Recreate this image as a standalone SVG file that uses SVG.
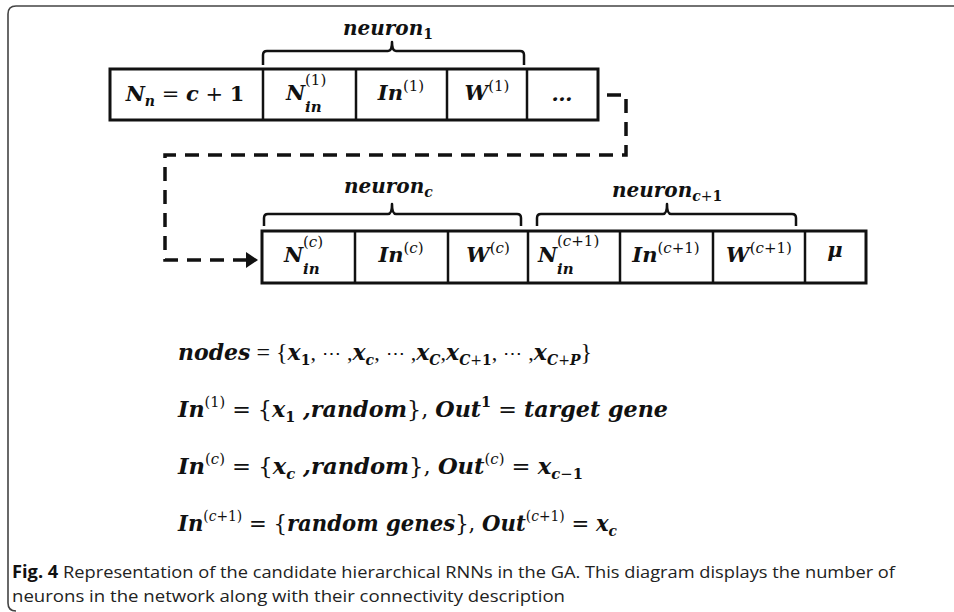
<svg xmlns="http://www.w3.org/2000/svg" width="954" height="612" viewBox="0 0 954 612">
<defs>
<style>
.m{font-family:"DejaVu Serif","Liberation Serif",serif;font-weight:bold;font-style:italic;fill:#111}
.r{font-weight:normal;font-style:normal}
.b{font-style:normal}
.ls{font-family:"Liberation Serif","DejaVu Serif",serif}
.box{fill:#fff;stroke:#111;stroke-width:3}
.div{stroke:#111;stroke-width:2.5}
.brace{fill:none;stroke:#111;stroke-width:2.5;stroke-linejoin:round}
.dash{fill:none;stroke:#111;stroke-width:3.5;stroke-dasharray:14 9}
.cap{font-family:"Open Sans","Liberation Sans",sans-serif;font-size:17px;fill:#222}
</style>
</defs>
<rect width="954" height="612" fill="#fff"/>
<path d="M954,6 H16 Q8,6 8,14 V603 Q8,611 16,611" fill="none" stroke="#444" stroke-width="1.6"/>

<g id="connectors">
<path class="dash" d="M607,95 H626 V155 H165 V260 H247"/>
<path d="M246,252 L258,260 L246,268 Z" fill="#111"/>
</g>

<g id="label-neuron1">
<path class="brace" d="M263,65 V55 Q263,51 267,51 H388 Q392,51 392,42 Q392,51 396,51 H520 Q524,51 524,55 V65"/>
<text class="m" x="343" y="35" font-size="20">neuron<tspan font-size="14" dy="4" class="b">1</tspan></text>
</g>

<g id="top-array">
<rect class="box" x="110" y="69" width="488" height="51"/>
<line class="div" x1="263" y1="69" x2="263" y2="120"/>
<line class="div" x1="356" y1="69" x2="356" y2="120"/>
<line class="div" x1="447" y1="69" x2="447" y2="120"/>
<line class="div" x1="527" y1="69" x2="527" y2="120"/>
<g id="cell-Nn">
<text class="m" x="185" y="101" font-size="21" text-anchor="middle">N<tspan font-size="14" dy="5">n</tspan><tspan class="r" dy="-5"> = </tspan>c<tspan class="r"> + </tspan><tspan class="b">1</tspan></text>
</g>
<g id="cell-Nin1">
<text class="m" x="286" y="100" font-size="21">N</text>
<text class="m" x="305" y="85" font-size="15"><tspan class="r">(1)</tspan></text>
<text class="m" x="305" y="112" font-size="15">in</text>
</g>
<g id="cell-In1">
<text class="m" x="401" y="100" font-size="21" text-anchor="middle">In<tspan font-size="15" dy="-9" class="r">(1)</tspan></text>
</g>
<g id="cell-W1">
<text class="m" x="487" y="100" font-size="21" text-anchor="middle">W<tspan font-size="15" dy="-9" class="r">(1)</tspan></text>
</g>
<g id="cell-dots">
<text class="m" x="562" y="101" font-size="21" text-anchor="middle">…</text>
</g>
</g>

<g id="label-neuronc">
<path class="brace" d="M264,226 V218 Q264,214 268,214 H388 Q392,214 392,204 Q392,214 396,214 H517 Q521,214 521,218 V226"/>
<text class="m" x="344" y="193" font-size="20">neuron<tspan font-size="14" dy="4">c</tspan></text>
</g>
<g id="label-neuronc1">
<path class="brace" d="M537,226 V218 Q537,214 541,214 H663 Q667,214 667,204 Q667,214 671,214 H792 Q796,214 796,218 V226"/>
<text class="m" x="612" y="197" font-size="20">neuron<tspan font-size="14" dy="4">c<tspan class="r">+</tspan><tspan class="b">1</tspan></tspan></text>
</g>

<g id="bottom-array">
<rect class="box" x="262" y="231" width="604" height="52"/>
<line class="div" x1="355" y1="231" x2="355" y2="283"/>
<line class="div" x1="448" y1="231" x2="448" y2="283"/>
<line class="div" x1="528" y1="231" x2="528" y2="283"/>
<line class="div" x1="620" y1="231" x2="620" y2="283"/>
<line class="div" x1="713" y1="231" x2="713" y2="283"/>
<line class="div" x1="805" y1="231" x2="805" y2="283"/>
<g id="cell-Ninc">
<text class="m" x="284" y="262" font-size="21">N</text>
<text class="m" x="303" y="247" font-size="15"><tspan class="r">(</tspan><tspan font-weight="normal">c</tspan><tspan class="r">)</tspan></text>
<text class="m" x="303" y="274" font-size="15">in</text>
</g>
<g id="cell-Inc">
<text class="m" x="401" y="262" font-size="21" text-anchor="middle">In<tspan font-size="15" dy="-9"><tspan class="r">(</tspan><tspan font-weight="normal">c</tspan><tspan class="r">)</tspan></tspan></text>
</g>
<g id="cell-Wc">
<text class="m" x="488" y="262" font-size="21" text-anchor="middle">W<tspan font-size="15" dy="-9"><tspan class="r">(</tspan><tspan font-weight="normal">c</tspan><tspan class="r">)</tspan></tspan></text>
</g>
<g id="cell-Ninc1">
<text class="m" x="538" y="262" font-size="21">N</text>
<text class="m" x="557" y="246" font-size="15"><tspan class="r">(</tspan><tspan font-weight="normal">c</tspan><tspan class="r">+1)</tspan></text>
<text class="m" x="557" y="274" font-size="15">in</text>
</g>
<g id="cell-Inc1">
<text class="m" x="666" y="262" font-size="21" text-anchor="middle">In<tspan font-size="15" dy="-9"><tspan class="r">(</tspan><tspan font-weight="normal">c</tspan><tspan class="r">+1)</tspan></tspan></text>
</g>
<g id="cell-Wc1">
<text class="m" x="759" y="262" font-size="21" text-anchor="middle">W<tspan font-size="15" dy="-9"><tspan class="r">(</tspan><tspan font-weight="normal">c</tspan><tspan class="r">+1)</tspan></tspan></text>
</g>
<g id="cell-mu">
<text class="m" x="835" y="257" font-size="21" text-anchor="middle">μ</text>
</g>
</g>

<g id="equations">
<text class="m" x="178" y="360" font-size="22">nodes<tspan class="r ls" font-size="24"> = {</tspan>x<tspan font-size="14" dy="5" class="b">1</tspan><tspan class="r ls" dy="-5">,</tspan><tspan class="r" font-size="19"> ⋯ </tspan><tspan class="r ls">,</tspan>x<tspan font-size="14" dy="5">c</tspan><tspan class="r ls" dy="-5">,</tspan><tspan class="r" font-size="19"> ⋯ </tspan><tspan class="r ls">,</tspan>x<tspan font-size="14" dy="5">C</tspan><tspan class="r ls" dy="-5">,</tspan>x<tspan font-size="14" dy="5">C<tspan class="r">+</tspan><tspan class="b">1</tspan></tspan><tspan class="r ls" dy="-5">,</tspan><tspan class="r" font-size="19"> ⋯ </tspan><tspan class="r ls">,</tspan>x<tspan font-size="14" dy="5">C<tspan class="r">+</tspan>P</tspan><tspan class="r ls" dy="-5" font-size="24">}</tspan></text>
<text class="m" x="178" y="417" font-size="23" textLength="490" lengthAdjust="spacingAndGlyphs">In<tspan font-size="15" dy="-10" class="r">(1)</tspan><tspan class="r" dy="10"> = {</tspan>x<tspan font-size="15" dy="5" class="b">1</tspan><tspan dy="-5"> ,random</tspan><tspan class="r">}, </tspan>Out<tspan font-size="15" dy="-10" class="b">1</tspan><tspan class="r" dy="10"> = </tspan>target gene</text>
<text class="m" x="178" y="474" font-size="23" textLength="405" lengthAdjust="spacingAndGlyphs">In<tspan font-size="15" dy="-10"><tspan class="r">(</tspan><tspan font-weight="normal">c</tspan><tspan class="r">)</tspan></tspan><tspan class="r" dy="10"> = {</tspan>x<tspan font-size="15" dy="5">c</tspan><tspan dy="-5"> ,random</tspan><tspan class="r">}, </tspan>Out<tspan font-size="15" dy="-10"><tspan class="r">(</tspan><tspan font-weight="normal">c</tspan><tspan class="r">)</tspan></tspan><tspan class="r" dy="10"> = </tspan>x<tspan font-size="15" dy="5">c<tspan class="r">−</tspan><tspan class="b">1</tspan></tspan></text>
<text class="m" x="178" y="531" font-size="23" textLength="439" lengthAdjust="spacingAndGlyphs">In<tspan font-size="15" dy="-10"><tspan class="r">(</tspan><tspan font-weight="normal">c</tspan><tspan class="r">+1)</tspan></tspan><tspan class="r" dy="10"> = {</tspan>random genes<tspan class="r">}, </tspan>Out<tspan font-size="15" dy="-10"><tspan class="r">(</tspan><tspan font-weight="normal">c</tspan><tspan class="r">+1)</tspan></tspan><tspan class="r" dy="10"> = </tspan>x<tspan font-size="15" dy="5">c</tspan></text>
</g>

<g id="caption">
<text class="cap" x="12" y="578" textLength="883" lengthAdjust="spacingAndGlyphs"><tspan font-weight="bold" fill="#111">Fig. 4</tspan>  Representation of the candidate hierarchical RNNs in the GA. This diagram displays the number of</text>
<text class="cap" x="12" y="602" textLength="553" lengthAdjust="spacingAndGlyphs">neurons in the network along with their connectivity description</text>
</g>
</svg>
